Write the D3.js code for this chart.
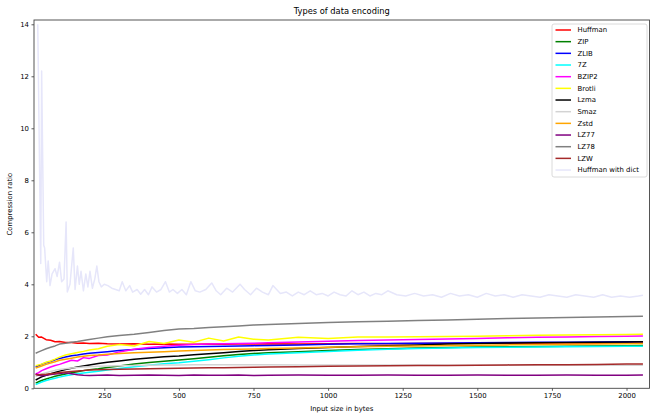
<!DOCTYPE html>
<html>
<head>
<meta charset="utf-8">
<script src="https://cdn.jsdelivr.net/npm/d3@7/dist/d3.min.js"></script>
<style>
  body { margin: 0; background: #fff; }
  text { font-family: "DejaVu Sans", sans-serif; fill: #000; }
</style>
</head>
<body>
<script>
// input sizes (bytes) shared by the smooth series
var sizes = [20,30,40,55,70,85,100,120,140,160,180,200,230,260,300,350,400,450,500,550,
             600,650,700,750,800,900,1000,1100,1200,1300,1400,1500,1600,1700,1800,1900,2000,2055];

var huffman = [2.08,1.96,1.97,1.87,1.85,1.79,1.80,1.76,1.76,1.73,1.74,1.72,1.73,1.71,1.70,1.71,1.69,1.70,1.69,1.69,
               1.70,1.69,1.70,1.70,1.71,1.70,1.71,1.72,1.71,1.72,1.72,1.73,1.72,1.73,1.74,1.73,1.74,1.75];
var zip     = [0.20,0.25,0.30,0.36,0.41,0.46,0.50,0.55,0.60,0.64,0.68,0.71,0.75,0.80,0.86,0.93,0.99,1.04,1.09,1.14,
               1.19,1.25,1.30,1.34,1.37,1.41,1.45,1.49,1.52,1.55,1.57,1.59,1.60,1.61,1.62,1.63,1.64,1.65];
var zlib    = [0.82,0.87,0.92,0.98,1.03,1.10,1.15,1.20,1.25,1.28,1.32,1.35,1.38,1.41,1.45,1.49,1.53,1.56,1.59,1.60,
               1.61,1.62,1.63,1.64,1.65,1.67,1.69,1.71,1.72,1.73,1.74,1.75,1.76,1.77,1.77,1.78,1.79,1.79];
var sevenZ  = [0.14,0.19,0.24,0.30,0.35,0.39,0.43,0.48,0.52,0.56,0.59,0.62,0.66,0.70,0.76,0.83,0.89,0.94,0.98,1.04,
               1.10,1.17,1.23,1.28,1.32,1.37,1.42,1.46,1.50,1.53,1.55,1.57,1.58,1.59,1.60,1.61,1.62,1.62];
var bzip2   = [0.55,0.60,0.68,0.75,0.82,0.88,0.92,1.00,1.08,1.05,1.18,1.15,1.26,1.28,1.40,1.50,1.57,1.62,1.66,1.68,
               1.70,1.71,1.72,1.73,1.75,1.78,1.81,1.84,1.86,1.88,1.90,1.92,1.94,1.96,1.97,1.99,2.00,2.01];
var brotli  = [0.87,0.90,0.93,1.00,1.05,1.12,1.20,1.28,1.33,1.38,1.42,1.47,1.52,1.62,1.68,1.63,1.80,1.72,1.86,1.77,
               1.93,1.82,1.97,1.89,1.86,1.96,1.92,1.97,1.97,1.98,1.99,2.00,2.02,2.04,2.05,2.06,2.07,2.08];
var lzma    = [0.32,0.38,0.44,0.50,0.56,0.61,0.66,0.72,0.77,0.82,0.86,0.90,0.95,1.00,1.05,1.12,1.17,1.21,1.24,1.29,
               1.33,1.37,1.42,1.45,1.48,1.53,1.57,1.61,1.64,1.67,1.70,1.72,1.74,1.75,1.76,1.77,1.78,1.79];
var smaz    = [0.45,0.50,0.55,0.60,0.65,0.69,0.72,0.75,0.78,0.80,0.82,0.83,0.85,0.86,0.87,0.88,0.89,0.90,0.90,0.91,
               0.91,0.91,0.91,0.91,0.91,0.90,0.90,0.90,0.90,0.90,0.89,0.89,0.89,0.89,0.89,0.89,0.89,0.89];
var zstd    = [0.78,0.82,0.86,0.92,0.97,1.02,1.08,1.12,1.16,1.20,1.23,1.26,1.28,1.31,1.34,1.37,1.39,1.41,1.43,1.45,
               1.47,1.49,1.50,1.51,1.53,1.55,1.58,1.60,1.62,1.63,1.65,1.66,1.67,1.68,1.69,1.70,1.71,1.72];
var lz77    = [0.55,0.50,0.48,0.50,0.53,0.55,0.57,0.60,0.56,0.52,0.50,0.49,0.50,0.51,0.49,0.50,0.51,0.50,0.49,0.51,
               0.50,0.50,0.51,0.49,0.50,0.51,0.50,0.50,0.51,0.50,0.50,0.51,0.50,0.50,0.51,0.50,0.50,0.51];
var lz78    = [1.35,1.40,1.45,1.52,1.58,1.63,1.70,1.73,1.77,1.80,1.84,1.88,1.93,1.98,2.03,2.08,2.15,2.22,2.28,2.30,
               2.34,2.37,2.40,2.43,2.45,2.49,2.53,2.56,2.58,2.61,2.63,2.66,2.68,2.70,2.72,2.74,2.76,2.77];
var lzw     = [0.52,0.52,0.53,0.54,0.56,0.58,0.61,0.63,0.65,0.67,0.68,0.70,0.71,0.72,0.73,0.74,0.75,0.76,0.77,0.78,
               0.79,0.79,0.80,0.81,0.82,0.83,0.85,0.86,0.87,0.88,0.88,0.89,0.90,0.91,0.91,0.92,0.93,0.93];

// huffman with dict is noisy, it gets its own sizes
var dictSizes = [27,37,40,47,50,57,62,68,75,85,92,100,107,115,122,126,135,146,152,160,
                 166,172,180,188,195,202,210,218,225,232,240,250,262,275,288,300,310,322,335,345,
                 360,372,385,398,410,425,440,455,468,480,495,510,525,540,555,570,590,610,625,640,
                 660,680,705,720,740,760,780,800,815,840,860,880,900,920,940,960,980,1000,1020,1040,
                 1060,1080,1100,1120,1140,1160,1180,1200,1230,1260,1290,1320,1350,1380,1410,1440,1470,1500,1530,1560,
                 1590,1620,1650,1680,1710,1740,1770,1800,1830,1860,1890,1920,1950,1980,2010,2040,2055];
var huffmanDict = [14.0,4.8,12.2,5.5,5.4,4.1,4.9,3.95,4.4,4.6,4.3,4.85,4.1,4.2,6.4,3.7,4.0,5.4,3.8,4.7,
                   4.0,4.5,3.75,4.4,3.9,4.5,3.85,4.2,4.7,4.1,3.9,4.0,3.95,3.85,3.8,3.75,4.1,3.75,3.95,3.7,
                   3.8,3.62,3.8,3.6,3.9,3.7,3.8,4.1,3.7,3.8,3.65,3.8,3.6,4.1,3.75,3.7,3.8,4.05,3.75,3.6,
                   3.85,3.7,4.0,3.8,3.6,3.85,3.7,3.6,3.95,3.65,3.7,3.55,3.7,3.6,3.75,3.6,3.65,3.55,3.7,3.6,
                   3.55,3.75,3.6,3.7,3.55,3.65,3.6,3.75,3.6,3.55,3.65,3.55,3.6,3.5,3.65,3.55,3.6,3.5,3.65,3.55,
                   3.6,3.5,3.6,3.55,3.5,3.6,3.55,3.5,3.6,3.55,3.5,3.6,3.5,3.55,3.5,3.55,3.58];

var names  = ["Huffman","ZIP","ZLIB","7Z","BZIP2","Brotli","Lzma","Smaz","Zstd","LZ77","LZ78","LZW","Huffman with dict"];
var colors = ["red","green","blue","cyan","magenta","yellow","black","lightgrey","orange","purple","grey","brown","lavender"];
var yTicks = [0,2,4,6,8,10,12,14];
var xTicks = [250,500,750,1000,1250,1500,1750,2000];

var width  = 650;
var height = 416;
var pLeft = 34, pRight = 649.5, pTop = 20, pBottom = 388.3;

var allValues = [huffman,zip,zlib,sevenZ,bzip2,brotli,lzma,smaz,zstd,lz77,lz78,lzw,huffmanDict];
var series = names.map(function(n,i){
  var xs = (i==12) ? dictSizes : sizes;
  return {name:n, color:colors[i], points: xs.map(function(s,j){ return [s, allValues[i][j]]; })};
});

var x = d3.scaleLinear()
  .domain([14.4,2077])
  .range([pLeft,pRight]);
var y = d3.scaleLinear()
  .domain([0,14.165])
  .range([pBottom,pTop]);

var svg = d3.select("body")
  .append("svg")
  .attr("width",width)
  .attr("height",height);

svg.append("rect")
  .attr("width",width)
  .attr("height",height)
  .attr("fill","#fff");

var line = d3.line()
  .x(function(d){ return x(d[0]); })
  .y(function(d){ return y(d[1]); });

svg.selectAll("path.serie")
  .data(series)
  .enter()
  .append("path")
  .attr("class","serie")
  .attr("d",function(d){ return line(d.points); })
  .attr("fill","none")
  .attr("stroke",function(d){ return d.color; })
  .attr("stroke-width",1.5)
  .attr("stroke-linejoin","round");

// axes
var xAxis = d3.axisBottom(x).tickValues(xTicks).tickFormat(d3.format("d")).tickSize(2.5).tickPadding(2.5);
var yAxis = d3.axisLeft(y).tickValues(yTicks).tickFormat(d3.format("d")).tickSize(2.5).tickPadding(2.5);

var gx = svg.append("g")
  .attr("transform","translate(0,"+pBottom+")")
  .call(xAxis);
var gy = svg.append("g")
  .attr("transform","translate("+pLeft+",0)")
  .call(yAxis);
[gx,gy].forEach(function(g){
  g.select(".domain").remove();
  g.selectAll(".tick line").attr("stroke","#333").attr("stroke-width",0.8);
  g.selectAll(".tick text").attr("font-size",6.9).attr("fill","#222")
    .attr("font-family","DejaVu Sans");
});

// frame
svg.append("rect")
  .attr("x",pLeft)
  .attr("y",pTop)
  .attr("width",pRight-pLeft)
  .attr("height",pBottom-pTop)
  .attr("fill","none")
  .attr("stroke","#444")
  .attr("stroke-width",0.9);

svg.append("text")
  .attr("x",(pLeft+pRight)/2)
  .attr("y",13.5)
  .attr("text-anchor","middle")
  .attr("font-size",8.3)
  .text("Types of data encoding");
svg.append("text")
  .attr("x",(pLeft+pRight)/2)
  .attr("y",410.5)
  .attr("text-anchor","middle")
  .attr("font-size",6.9)
  .text("Input size in bytes");
svg.append("text")
  .attr("transform","translate(12,"+((pTop+pBottom)/2)+") rotate(-90)")
  .attr("text-anchor","middle")
  .attr("font-size",6.9)
  .text("Compression ratio");

// legend
var legend = svg.append("g").attr("transform","translate(552,24)");
legend.append("rect")
  .attr("width",95)
  .attr("height",153)
  .attr("rx",2)
  .attr("fill","#fff")
  .attr("fill-opacity",0.8)
  .attr("stroke","#d0d0d0")
  .attr("stroke-width",0.8);
var item = legend.selectAll("g.item")
  .data(series)
  .enter()
  .append("g")
  .attr("class","item")
  .attr("transform",function(d,i){ return "translate(0,"+(6+i*11.67)+")"; });
item.append("line")
  .attr("x1",3.5).attr("x2",19)
  .attr("stroke",function(d){ return d.color; })
  .attr("stroke-width",1.5);
item.append("text")
  .attr("x",25.5)
  .attr("dy","0.35em")
  .attr("font-size",6.9)
  .text(function(d){ return d.name; });
</script>
</body>
</html>
